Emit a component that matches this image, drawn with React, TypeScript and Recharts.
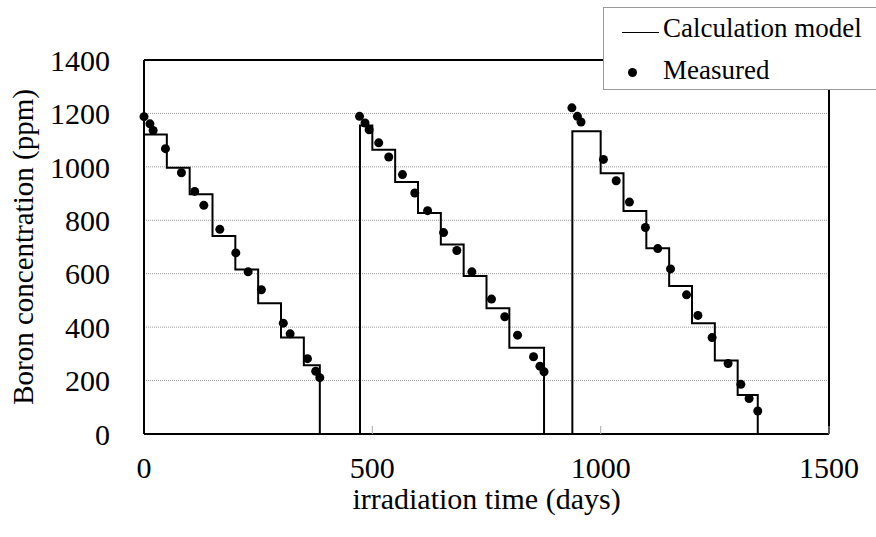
import React from "react";
import {
  ComposedChart,
  Line,
  Scatter,
  XAxis,
  YAxis,
  CartesianGrid,
  ReferenceLine,
  Legend,
  Label,
} from "recharts";

// calculation model: step levels, each one holds until the next day
const modelDays = [
  0, 50, 100, 150, 200, 250, 300, 350, 385,
  473, 500, 550, 600, 650, 700, 750, 800, 876,
  938, 1000, 1050, 1100, 1150, 1200, 1250, 1300, 1344, 1500,
];
const modelPpm = [
  1121, 997, 897, 741, 616, 489, 361, 257, 0,
  1155, 1064, 943, 827, 709, 591, 471, 323, 0,
  1133, 976, 835, 695, 554, 415, 275, 146, 0, 0,
];

// measured points
const measuredDays = [
  0, 13, 20, 47, 82, 111, 131, 166, 201, 228, 257, 305, 320, 358, 376, 385,
  472, 484, 493, 514, 536, 566, 593, 621, 656, 685, 718, 761, 790, 818, 853, 867, 876,
  937, 949, 957, 1006, 1034, 1063, 1098, 1125, 1153, 1188, 1213, 1244, 1279, 1307, 1325, 1344,
];
const measuredPpm = [
  1188, 1161, 1136, 1068, 978, 908, 856, 766, 678, 607, 540, 415, 375, 282, 235, 211,
  1189, 1164, 1139, 1090, 1037, 971, 902, 836, 754, 687, 607, 505, 439, 370, 289, 254, 233,
  1221, 1189, 1168, 1028, 948, 868, 773, 694, 618, 521, 444, 361, 264, 186, 133, 86,
];

const xTicks = [0, 500, 1000, 1500];
const yTicks = [0, 200, 400, 600, 800, 1000, 1200, 1400];

const modelData = modelDays.map((d, i) => ({ day: d, ppm: modelPpm[i] }));
const measuredData = measuredDays.map((d, i) => ({ day: d, ppm: measuredPpm[i] }));

const FONT = '"Liberation Serif", "Times New Roman", serif';

const YTitle = (props: any) => {
  const { viewBox } = props;
  const cx = viewBox.x + 23;
  const cy = viewBox.y + viewBox.height / 2;
  return (
    <text
      x={cx}
      y={cy}
      transform={`rotate(-90, ${cx}, ${cy})`}
      textAnchor="middle"
      dominantBaseline="central"
      fontFamily={FONT}
      fontSize={29}
      fill="#000"
    >
      Boron concentration (ppm)
    </text>
  );
};

const XTitle = (props: any) => {
  const { viewBox } = props;
  return (
    <text
      x={viewBox.x + viewBox.width / 2}
      y={viewBox.y + 64}
      textAnchor="middle"
      dominantBaseline="central"
      fontFamily={FONT}
      fontSize={30}
      fill="#000"
    >
      irradiation time (days)
    </text>
  );
};

const LegendBox = () => (
  <div
    style={{
      position: "relative",
      width: 273,
      height: 83,
      boxSizing: "border-box",
      border: "1px solid #999",
      borderRight: "none",
      background: "#fff",
      fontFamily: FONT,
      fontSize: 27,
      color: "#000",
    }}
  >
    <div
      style={{
        position: "absolute",
        left: 18,
        top: 24,
        width: 37,
        height: 0,
        borderTop: "1.5px solid #000",
      }}
    />
    <div style={{ position: "absolute", left: 59, top: 3, lineHeight: "34px", whiteSpace: "nowrap" }}>
      Calculation model
    </div>
    <div
      style={{
        position: "absolute",
        left: 24,
        top: 60,
        width: 9,
        height: 9,
        borderRadius: "50%",
        background: "#000",
      }}
    />
    <div style={{ position: "absolute", left: 59, top: 45, lineHeight: "34px", whiteSpace: "nowrap" }}>
      Measured
    </div>
  </div>
);

export default function App() {
  return (
    <div style={{ position: "absolute", left: 0, top: 0, width: 876, height: 537, background: "#fff" }}>
      <ComposedChart
        width={876}
        height={537}
        margin={{ top: 60, right: 47, bottom: 0, left: 0 }}
      >
        <CartesianGrid vertical={false} stroke="#999" strokeDasharray="1 1" />
        <XAxis
          dataKey="day"
          type="number"
          domain={[0, 1500]}
          ticks={xTicks}
          height={103}
          axisLine={{ stroke: "#000", strokeWidth: 2 }}
          tickLine={{ stroke: "#aaa" }}
          tickSize={-8}
          tickMargin={31}
          tick={{ fill: "#000", fontSize: 30, fontFamily: FONT }}
        >
          <Label content={XTitle} />
        </XAxis>
        <YAxis
          type="number"
          domain={[0, 1400]}
          ticks={yTicks}
          width={144}
          axisLine={{ stroke: "#000", strokeWidth: 2 }}
          tickLine={false}
          tickSize={0}
          tickMargin={34}
          tick={{ fill: "#000", fontSize: 30, fontFamily: FONT }}
        >
          <Label content={YTitle} />
        </YAxis>
        <ReferenceLine y={1400} stroke="#000" strokeWidth={2} />
        <ReferenceLine x={1500} stroke="#000" strokeWidth={2} />
        <Line
          data={modelData}
          dataKey="ppm"
          type="stepAfter"
          stroke="#000"
          strokeWidth={2}
          dot={false}
          name="Calculation model"
          isAnimationActive={false}
        />
        <Scatter
          data={measuredData}
          dataKey="ppm"
          fill="#000"
          name="Measured"
          shape={(p: any) => <circle cx={p.cx} cy={p.cy} r={4.5} fill="#000" />}
          isAnimationActive={false}
        />
        <Legend
          layout="horizontal"
          verticalAlign="middle"
          align="center"
          content={LegendBox}
          wrapperStyle={{ left: 603, top: 7, width: 273, height: 83 }}
        />
      </ComposedChart>
    </div>
  );
}
